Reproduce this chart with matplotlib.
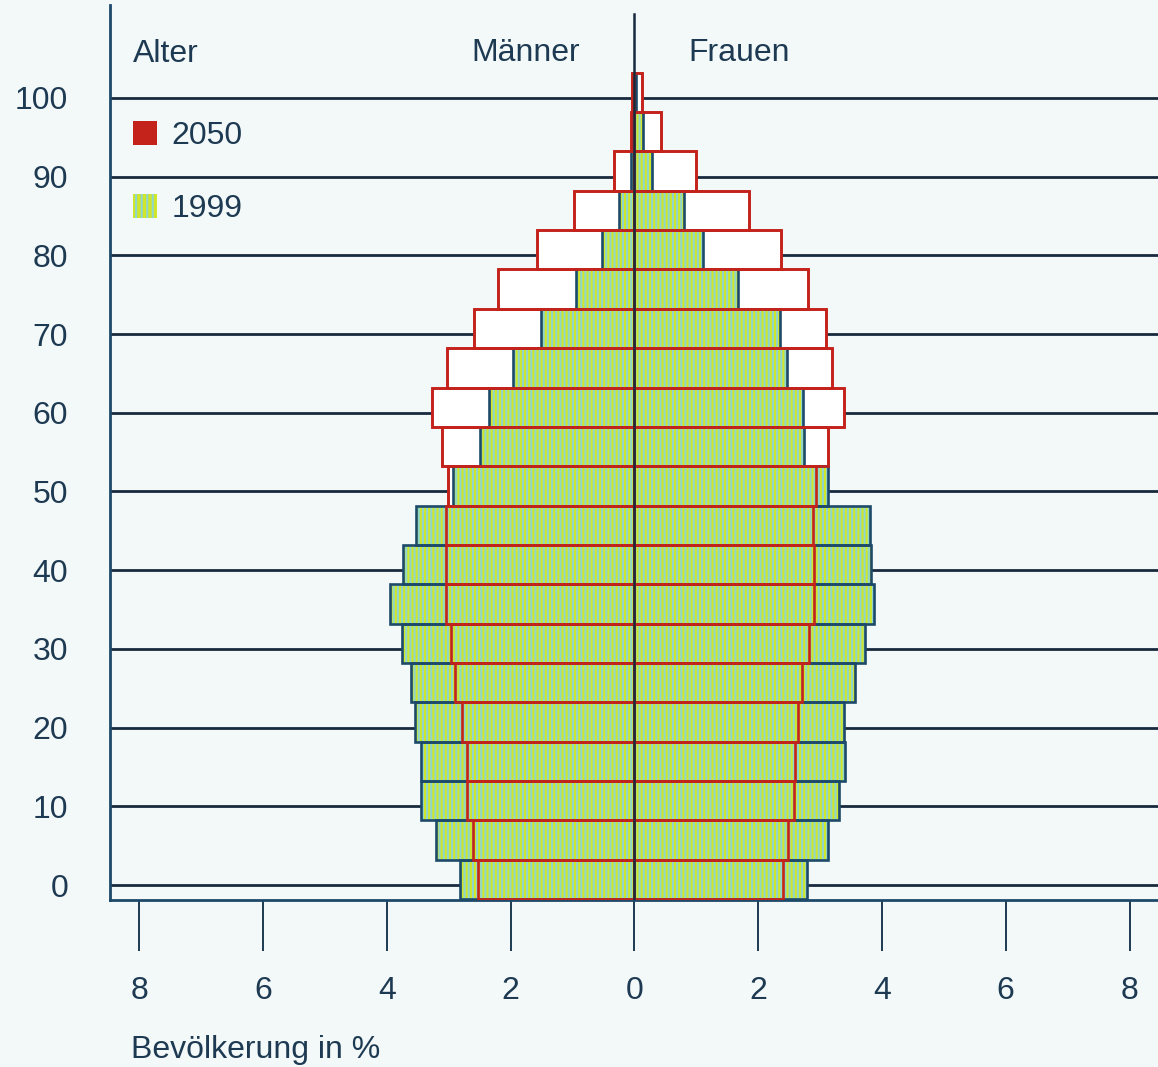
import numpy as np
import matplotlib
matplotlib.use("Agg")
import matplotlib.pyplot as plt
from matplotlib.patches import Patch

# age groups (start of each 5-year class, last one is 100+)
age_start = [0, 5, 10, 15, 20, 25, 30, 35, 40, 45, 50,
             55, 60, 65, 70, 75, 80, 85, 90, 95, 100]

# share of population in %
men_1999 = [2.82, 3.21, 3.45, 3.45, 3.55, 3.60, 3.76, 3.94, 3.74, 3.52, 2.93,
            2.50, 2.35, 1.96, 1.51, 0.95, 0.53, 0.24, 0.06, 0.02, 0.00]
women_1999 = [2.79, 3.13, 3.30, 3.41, 3.39, 3.56, 3.72, 3.88, 3.83, 3.80, 3.13,
              2.74, 2.72, 2.46, 2.35, 1.67, 1.11, 0.80, 0.29, 0.14, 0.02]
men_2050 = [2.53, 2.61, 2.71, 2.71, 2.79, 2.90, 2.96, 3.04, 3.04, 3.04, 3.01,
            3.10, 3.27, 3.02, 2.59, 2.20, 1.58, 0.98, 0.33, 0.06, 0.03]
women_2050 = [2.40, 2.49, 2.58, 2.59, 2.64, 2.71, 2.82, 2.91, 2.90, 2.89, 2.94,
              3.13, 3.39, 3.19, 3.09, 2.81, 2.37, 1.85, 0.99, 0.43, 0.12]

age_ticks = [0, 10, 20, 30, 40, 50, 60, 70, 80, 90, 100]
pct_ticks = [-8, -6, -4, -2, 0, 2, 4, 6, 8]
pct_labels = ["8", "6", "4", "2", "0", "2", "4", "6", "8"]

INK = "#1d3a52"
GRID = "#172a3e"
RED = "#c4231c"
GREEN = "#cfe62a"
CYAN = "#8fd6cf"
EDGE = "#1d4a6a"
PAPER = "#f3f8f8"
FS = 23

plt.rcParams["font.family"] = ["Liberation Sans", "DejaVu Sans"]
plt.rcParams["hatch.linewidth"] = 1.5

fig = plt.figure(figsize=(11.58, 10.67), dpi=100, facecolor=PAPER)
ax = fig.add_axes([110 / 1158, 167 / 1067, 1 - 110 / 1158, 1 - 172 / 1067])
ax.set_facecolor(PAPER)

y = np.array(age_start) - 1.8   # bars sit a bit below the age labels in the original
h = 5

for a in age_ticks:
    ax.axhline(a, color=GRID, lw=2.0, zorder=1)

# 2050: white boxes behind
ax.barh(y, -np.array(men_2050), height=h, align="edge", color="white",
        edgecolor=RED, lw=1.9, zorder=2)
ax.barh(y, women_2050, height=h, align="edge", color="white",
        edgecolor=RED, lw=1.9, zorder=2)

# 1999: striped green bars
for vals, sign in [(men_1999, -1), (women_1999, 1)]:
    ax.barh(y, sign * np.array(vals), height=h, align="edge", facecolor=GREEN,
            edgecolor=CYAN, hatch="||||", lw=0, zorder=3)
    ax.barh(y, sign * np.array(vals), height=h, align="edge", fill=False,
            edgecolor=EDGE, lw=1.9, zorder=4)

# 2050 outlines again on top
ax.barh(y, -np.array(men_2050), height=h, align="edge", fill=False,
        edgecolor=RED, lw=1.9, zorder=5)
ax.barh(y, women_2050, height=h, align="edge", fill=False,
        edgecolor=RED, lw=1.9, zorder=5)

ax.axvline(0, ymax=0.99, color=GRID, lw=1.8, zorder=6)

ax.set_xlim(-8.47, 8.46)
ax.set_ylim(-1.9, 111.8)

ax.set_yticks(age_ticks)
ax.set_yticklabels([str(a) for a in age_ticks])
ax.set_xticks(pct_ticks)
ax.set_xticklabels(pct_labels)
ax.tick_params(axis="y", length=0, pad=30, labelsize=FS, labelcolor=INK)
ax.tick_params(axis="x", length=37, width=1.4, color=INK, pad=18,
               labelsize=FS, labelcolor=INK)

for s in ["top", "right"]:
    ax.spines[s].set_visible(False)
for s in ["left", "bottom"]:
    ax.spines[s].set_color(EDGE)
    ax.spines[s].set_linewidth(2.0)

handles = [Patch(facecolor=RED, edgecolor="none", label="2050"),
           Patch(facecolor=GREEN, edgecolor=CYAN, hatch="|||", lw=0, label="1999")]
fig.legend(handles=handles, loc="upper left",
           bbox_to_anchor=(133 / 1158, 1 - 121 / 1067), frameon=False,
           fontsize=FS, labelcolor=INK, handlelength=0.75, handleheight=0.75,
           handletextpad=0.45, labelspacing=1.35, borderpad=0, borderaxespad=0)

fig.text(133 / 1158, 1 - 54 / 1067, "Alter", fontsize=FS, color=INK,
         ha="left", va="center")
fig.text(580 / 1158, 1 - 53 / 1067, "Männer", fontsize=FS, color=INK,
         ha="right", va="center")
fig.text(688 / 1158, 1 - 53 / 1067, "Frauen", fontsize=FS, color=INK,
         ha="left", va="center")
fig.text(131 / 1158, 1 - 1050 / 1067, "Bevölkerung in %", fontsize=FS,
         color=INK, ha="left", va="center")

fig.savefig("out.png", dpi=100, facecolor=PAPER)
